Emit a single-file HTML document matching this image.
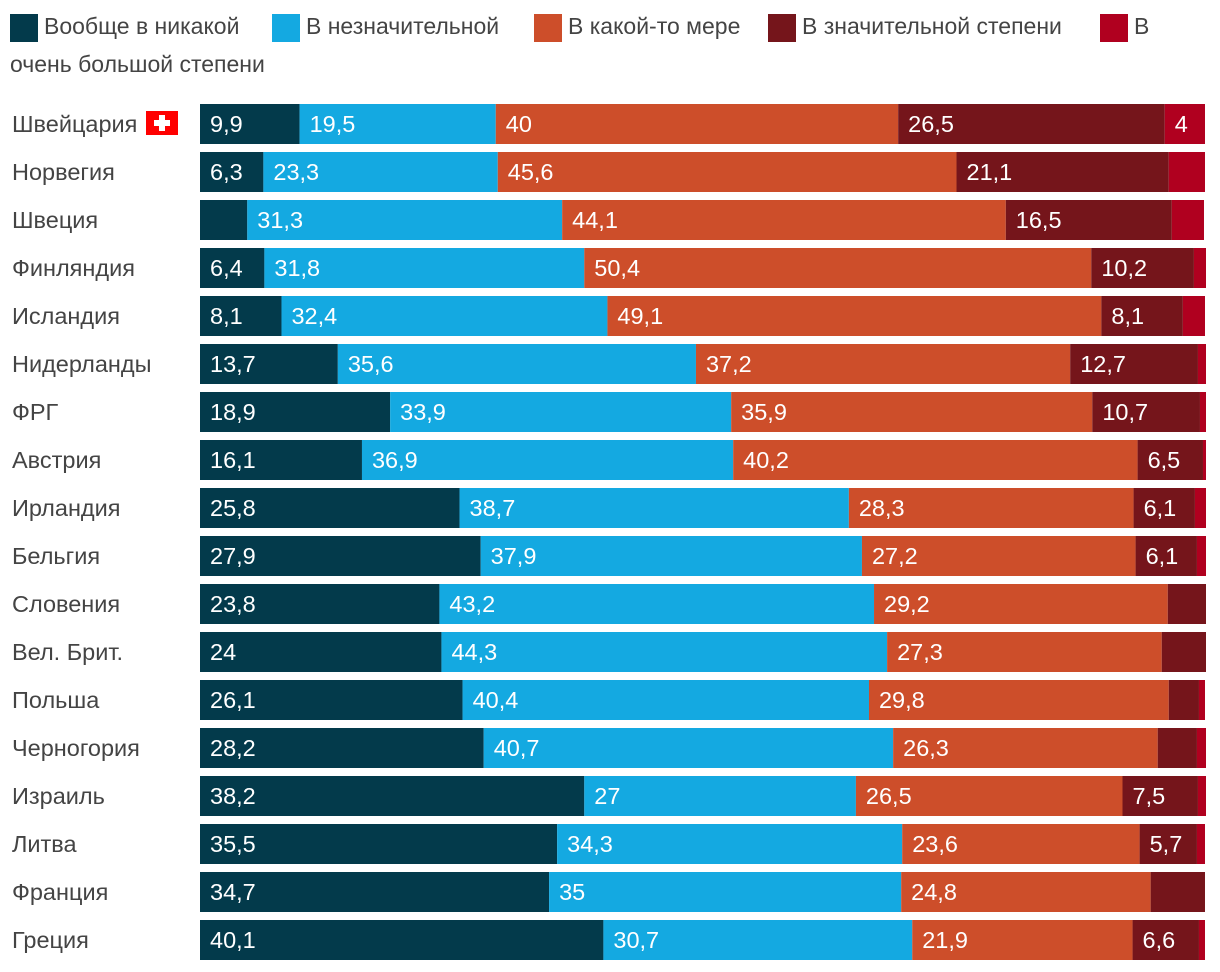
<!DOCTYPE html>
<html><head><meta charset="utf-8">
<style>
body{margin:0;width:1220px;height:972px;background:#fff;overflow:hidden;font-family:"Liberation Sans",sans-serif;}
.leg{position:absolute;font-size:23px;color:#444;}
.sw{position:absolute;width:28px;height:28px;}
</style></head>
<body>
<div>
<div class="sw" style="left:10px;top:14px;background:#033a4b"></div>
<div class="leg" style="left:44px;top:13px">Вообще в никакой</div>
<div class="sw" style="left:272px;top:14px;background:#14a9e1"></div>
<div class="leg" style="left:306px;top:13px">В незначительной</div>
<div class="sw" style="left:534px;top:14px;background:#cd4e2a"></div>
<div class="leg" style="left:568px;top:13px">В какой-то мере</div>
<div class="sw" style="left:768px;top:14px;background:#75151b"></div>
<div class="leg" style="left:802px;top:13px">В значительной степени</div>
<div class="sw" style="left:1100px;top:14px;background:#b0001f"></div>
<div class="leg" style="left:1134px;top:13px">В</div>
<div class="leg" style="left:10px;top:51px">очень большой степени</div>
</div>
<svg id="chart" width="1220" height="972" style="position:absolute;left:0;top:0"></svg>
<script>
const countries=["Швейцария","Норвегия","Швеция","Финляндия","Исландия","Нидерланды","ФРГ","Австрия","Ирландия","Бельгия","Словения","Вел. Брит.","Польша","Черногория","Израиль","Литва","Франция","Греция"];
const sNone=[9.9,6.3,4.7,6.4,8.1,13.7,18.9,16.1,25.8,27.9,23.8,24,26.1,28.2,38.2,35.5,34.7,40.1];
const sSlight=[19.5,23.3,31.3,31.8,32.4,35.6,33.9,36.9,38.7,37.9,43.2,44.3,40.4,40.7,27,34.3,35,30.7];
const sSome=[40,45.6,44.1,50.4,49.1,37.2,35.9,40.2,28.3,27.2,29.2,27.3,29.8,26.3,26.5,23.6,24.8,21.9];
const sSig=[26.5,21.1,16.5,10.2,8.1,12.7,10.7,6.5,6.1,6.1,3.8,4.4,3,3.9,7.5,5.7,5.4,6.6];
const sVery=[4,3.6,3.2,1.2,2.2,0.8,0.6,0.3,1.1,0.9,0,0,0.6,0.9,0.8,0.8,0,0.6];
const seriesNames=["none","slight","some","significant","very"];
const colors=["#033a4b","#14a9e1","#cd4e2a","#75151b","#b0001f"];
const hidden=["0-2","3-10","3-11","3-12","3-13","3-16"];
const NS="http://www.w3.org/2000/svg";
const svg=document.getElementById('chart');
const x0=200,pxPer=10.06;
function xs(v){return x0+v*pxPer;}
function ys(i){return 104+i*48;}
const all=[sNone,sSlight,sSome,sSig,sVery];
countries.forEach((c,i)=>{
  const t=document.createElementNS(NS,'text');
  t.setAttribute('x',12);t.setAttribute('y',ys(i)+28);
  t.setAttribute('font-size','23.5');t.setAttribute('fill','#444');
  t.setAttribute('font-family','Liberation Sans, sans-serif');
  t.textContent=c;
  
  
  svg.appendChild(t);
  let acc=0;
  all.forEach((s,k)=>{
    const v=s[i];
    if(v<=0){return;}
    const r=document.createElementNS(NS,'rect');
    r.setAttribute('x',xs(acc));r.setAttribute('y',ys(i));
    r.setAttribute('width',v*pxPer);r.setAttribute('height',40);
    r.setAttribute('fill',colors[k]);
    
    
    svg.appendChild(r);
    const show=(v>=5||(i===0&&k===4))&&hidden.indexOf(k+'-'+i)<0;
    if(show){
      const l=document.createElementNS(NS,'text');
      l.setAttribute('x',xs(acc)+10);l.setAttribute('y',ys(i)+28);
      l.setAttribute('font-size','23.5');l.setAttribute('fill','#fff');
      l.setAttribute('font-family','Liberation Sans, sans-serif');
      l.textContent=String(v).replace('.',',');
      
      
      svg.appendChild(l);
    }
    acc+=v;
  });
});
const f=document.createElementNS(NS,'g');


f.innerHTML='<rect x="146" y="111" width="32" height="24" fill="#f00"/><rect x="159" y="115" width="6" height="16" fill="#fff"/><rect x="154" y="120" width="16" height="6" fill="#fff"/>';
svg.appendChild(f);
</script>
</body></html>
